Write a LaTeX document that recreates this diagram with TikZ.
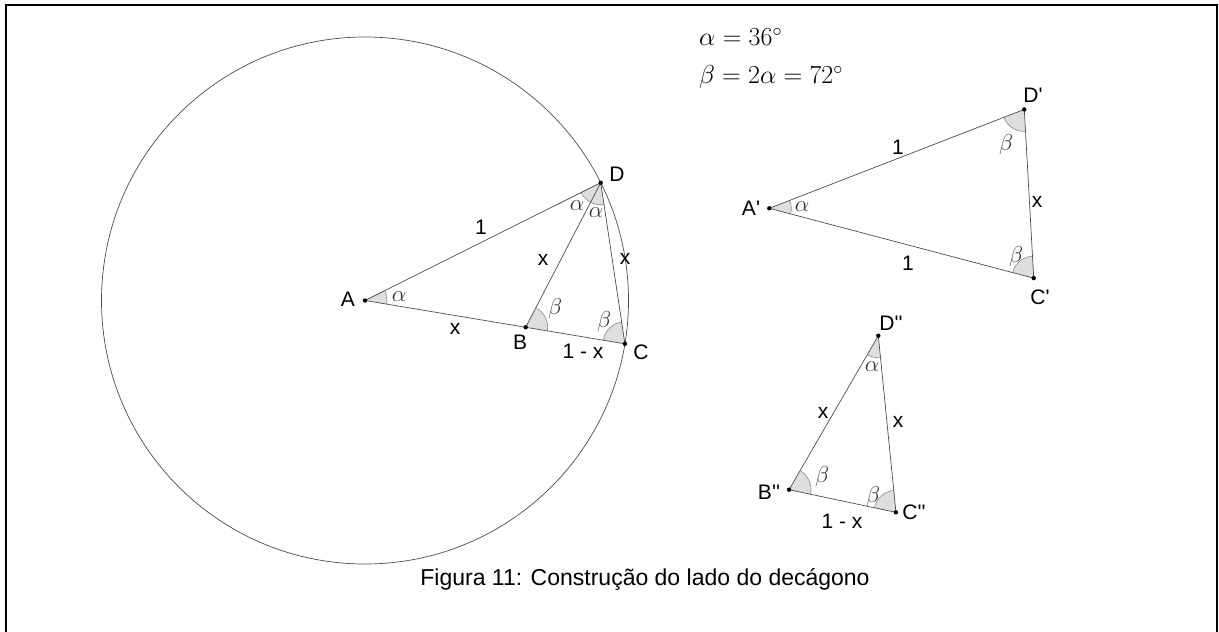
\RequirePackage{fix-cm}
\documentclass[tikz,border=0pt]{standalone}
\usepackage{fontspec}
\setmainfont{Liberation Sans}
\usetikzlibrary{angles}
\newcommand{\pr}{\textquotesingle}
\begin{document}
\begin{tikzpicture}[x=1pt,y=1pt,
  seg/.style={draw=black!70, line width=0.7pt},
  dotp/.style={fill=black},
  lab/.style={font=\fontsize{21}{24}\selectfont, inner sep=0pt},
  ang/.style={draw=black!45, fill=black!13, angle radius=22pt, line width=0.6pt},
  greek/.style={font=\fontsize{23}{26}\selectfont, inner sep=0pt, text=black!80},
  eqn/.style={font=\fontsize{26}{30}\selectfont, inner sep=0pt, anchor=west}]
\useasboundingbox (0,0) rectangle (1219,-632);
\draw[line width=2.5pt] (6,-632) -- (6,-5) -- (1217,-5) -- (1217,-632);
% main figure
\coordinate (A) at (365,-300.5);
\path (A) ++(-9.46:263.5) coordinate (C);
\path (A) ++(26.54:263.5) coordinate (D);
\path (A) ++(-9.46:162.9) coordinate (B);
\pic[ang] {angle = C--A--D};
\pic[ang] {angle = A--D--B};
\pic[ang] {angle = B--D--C};
\pic[ang] {angle = C--B--D};
\pic[ang] {angle = D--C--B};
\draw[seg] (A) circle (263.5);
\draw[seg] (A) -- (C);
\draw[seg] (A) -- (D);
\draw[seg] (B) -- (D);
\draw[seg] (D) -- (C);
\foreach \p in {A,B,C,D} \fill[dotp] (\p) circle (2.2);
\node[lab] (lA) at (348,-299) {A};
\node[lab] (lD) at (617,-174) {D};
\node[lab] (lB) at (520,-342) {B};
\node[lab] (lC) at (641,-352) {C};
\node[lab] (l1) at (481,-227) {1};
\node[lab] (lx1) at (543,-260) {x};
\node[lab] (lx2) at (625,-259) {x};
\node[lab] (lx3) at (455,-329) {x};
\node[lab] (l1x) at (583,-351) {1 - x};
\node[greek] (gA) at (399,-297) {$\alpha$};
\node[greek] (gD1) at (577,-206) {$\alpha$};
\node[greek] (gD2) at (596,-213) {$\alpha$};
\node[greek] (gB) at (555,-309) {$\beta$};
\node[greek] (gC) at (604,-322) {$\beta$};
% equations
\node[eqn] (e1) at (699,-37) {$\alpha = 36^\circ$};
\node[eqn] (e2) at (699,-77) {$\beta = 2\alpha = 72^\circ$};
% second triangle
\coordinate (A2) at (769.3,-208.3);
\path (A2) ++(21.2:273.5) coordinate (D2);
\path (A2) ++(-14.8:273.5) coordinate (C2);
\pic[ang] {angle = C2--A2--D2};
\pic[ang] {angle = A2--D2--C2};
\pic[ang] {angle = D2--C2--A2};
\draw[seg] (A2) -- (D2);
\draw[seg] (A2) -- (C2);
\draw[seg] (D2) -- (C2);
\foreach \p in {A2,D2,C2} \fill[dotp] (\p) circle (2.2);
\node[lab] (lA2) at (751,-208) {A\pr};
\node[lab] (lD2) at (1033,-95) {D\pr};
\node[lab] (lC2) at (1040,-297) {C\pr};
\node[lab] (l12a) at (898,-147) {1};
\node[lab] (l12b) at (908,-263) {1};
\node[lab] (lx2a) at (1037,-202) {x};
\node[greek] (gA2) at (802,-207) {$\alpha$};
\node[greek] (gD2b) at (1006,-145) {$\beta$};
\node[greek] (gC2) at (1016,-257) {$\beta$};
% third triangle
\coordinate (D3) at (878.3,-335.7);
\path (D3) ++(239.9:178) coordinate (B3);
\path (D3) ++(275.7:177.5) coordinate (C3);
\pic[ang] {angle = B3--D3--C3};
\pic[ang] {angle = C3--B3--D3};
\pic[ang] {angle = D3--C3--B3};
\draw[seg] (D3) -- (B3);
\draw[seg] (D3) -- (C3);
\draw[seg] (B3) -- (C3);
\foreach \p in {D3,B3,C3} \fill[dotp] (\p) circle (2.2);
\node[lab] (lD3) at (891,-323) {D\pr\pr};
\node[lab] (lB3) at (769,-492) {B\pr\pr};
\node[lab] (lC3) at (914,-512) {C\pr\pr};
\node[lab] (lx3a) at (823,-413) {x};
\node[lab] (lx3b) at (898,-422) {x};
\node[lab] (l1x3) at (842,-521) {1 - x};
\node[greek] (gD3) at (872,-367) {$\alpha$};
\node[greek] (gB3) at (822,-477) {$\beta$};
\node[greek] (gC3) at (873,-497) {$\beta$};
% caption
\node[font=\fontsize{23}{26}\selectfont, inner sep=0pt] (cap) at (645,-579) {Figura 11: Construção do lado do decágono};
\end{tikzpicture}
\end{document}
